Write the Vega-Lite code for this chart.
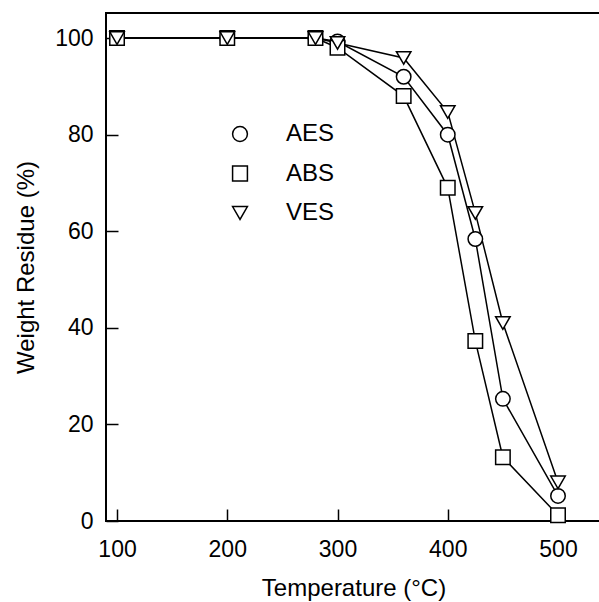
{
  "$schema": "https://vega.github.io/schema/vega-lite/v6.json",
  "width": 495,
  "height": 508,
  "autosize": "none",
  "padding": {"left": 106, "top": 13, "right": 0, "bottom": 81},
  "background": "white",
  "config": {
    "font": "Liberation Sans",
    "view": {"stroke": "black", "strokeWidth": 2},
    "axis": {"grid": false, "domain": false, "labelFont": "Liberation Sans", "titleFont": "Liberation Sans", "labelColor": "black", "titleColor": "black", "tickColor": "black", "labelFontSize": 23, "titleFontSize": 24, "titleFontWeight": "normal", "tickSize": -12, "tickWidth": 1.5}
  },
  "data": {"values": [
    {"t": 100, "w": 100, "s": "AES"}, {"t": 200, "w": 100, "s": "AES"}, {"t": 280, "w": 100, "s": "AES"}, {"t": 300, "w": 99.3, "s": "AES"}, {"t": 360, "w": 92, "s": "AES"}, {"t": 400, "w": 80, "s": "AES"}, {"t": 425, "w": 58.4, "s": "AES"}, {"t": 450, "w": 25.3, "s": "AES"}, {"t": 500, "w": 5.2, "s": "AES"},
    {"t": 100, "w": 100, "s": "ABS"}, {"t": 200, "w": 100, "s": "ABS"}, {"t": 280, "w": 100, "s": "ABS"}, {"t": 300, "w": 98, "s": "ABS"}, {"t": 360, "w": 88, "s": "ABS"}, {"t": 400, "w": 69, "s": "ABS"}, {"t": 425, "w": 37.3, "s": "ABS"}, {"t": 450, "w": 13.2, "s": "ABS"}, {"t": 500, "w": 1.2, "s": "ABS"},
    {"t": 100, "w": 100, "s": "VES"}, {"t": 200, "w": 100, "s": "VES"}, {"t": 280, "w": 100, "s": "VES"}, {"t": 300, "w": 99, "s": "VES"}, {"t": 360, "w": 95.9, "s": "VES"}, {"t": 400, "w": 84.7, "s": "VES"}, {"t": 425, "w": 63.8, "s": "VES"}, {"t": 450, "w": 41, "s": "VES"}, {"t": 500, "w": 8, "s": "VES"}
  ]},
  "encoding": {
    "x": {"field": "t", "type": "quantitative", "scale": {"domain": [90, 539], "nice": false, "zero": false}, "axis": {"values": [100, 200, 300, 400, 500], "title": "Temperature (°C)", "labelPadding": 29, "titlePadding": 15}},
    "y": {"field": "w", "type": "quantitative", "scale": {"domain": [0, 105.2], "nice": false}, "axis": {"values": [0, 20, 40, 60, 80, 100], "title": "Weight Residue (%)", "labelPadding": 25, "titlePadding": 16}}
  },
  "layer": [
    {"mark": {"type": "line", "color": "black", "strokeWidth": 1.5}, "encoding": {"detail": {"field": "s"}}},
    {"mark": {"type": "point", "filled": false, "color": "black", "fill": "white", "fillOpacity": 1, "strokeWidth": 1.5, "size": 210},
     "encoding": {"shape": {"field": "s", "type": "nominal", "scale": {"domain": ["AES", "ABS", "VES"], "range": ["circle", "square", "triangle-down"]},
       "legend": {"title": null, "orient": "none", "legendX": 122, "legendY": 109, "labelFontSize": 24, "labelFont": "Liberation Sans", "labelColor": "black", "labelOffset": 34, "rowPadding": 15.5, "symbolSize": 220, "symbolStrokeWidth": 1.5}}}}
  ]
}
